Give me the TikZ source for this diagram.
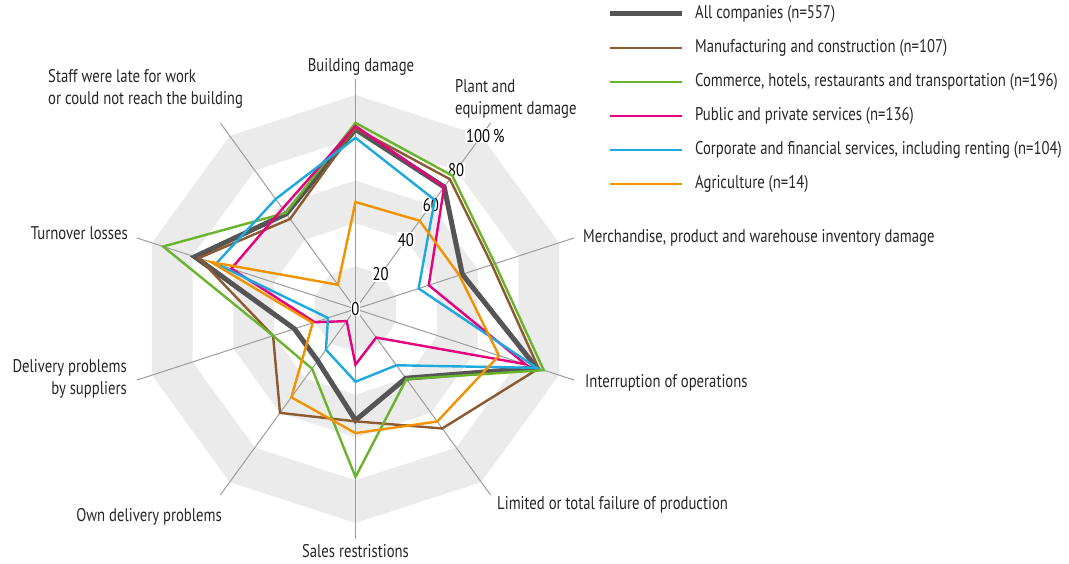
\documentclass[tikz,border=0pt]{standalone}
\usepackage{fontspec}
\setmainfont{PT Sans}[FakeStretch=0.8]
\usetikzlibrary{positioning}

\definecolor{allgray}{HTML}{555555}
\definecolor{manbrown}{HTML}{8C5A30}
\definecolor{comgreen}{HTML}{6AB42D}
\definecolor{pubpink}{HTML}{E6007E}
\definecolor{corblue}{HTML}{1EA8E0}
\definecolor{agrorange}{HTML}{F39200}
\definecolor{bandgray}{HTML}{EBEBEB}
\definecolor{axisgray}{HTML}{9D9D9D}

\begin{document}
\begin{tikzpicture}[x=1pt, y=1pt, font=\fontsize{18.4}{22}\selectfont]
\tikzset{axisline/.style={draw=axisgray, line width=1pt},
         serie/.style={line width=2.4pt},
         allline/.style={serie, draw=allgray, line width=5pt},
         manline/.style={serie, draw=manbrown},
         comline/.style={serie, draw=comgreen},
         publine/.style={serie, draw=pubpink},
         corline/.style={serie, draw=corblue},
         agrline/.style={serie, draw=agrorange},
         ticklabel/.style={fill=white, inner sep=0.8pt},
         axislabel/.style={inner sep=0pt, text=black!85},
         legtext/.style={inner sep=0pt, anchor=west, text=black!85}}
\useasboundingbox (-355.5,-255) rectangle (713.5,309);

% radar part, one unit = one percent
\begin{scope}[x=2.14pt, y=2.14pt]
% bands
\foreach \r/\c in {100/bandgray,80/white,60/bandgray,40/white,20/bandgray}
  \fill[\c] (90:\r) \foreach \a in {126,162,...,414} {-- (\a:\r)} -- cycle;
% axes
\foreach \a in {90,54,...,-234}
  \draw[axisline] (0,0) -- (\a:107.5);
% scale
\foreach \v in {0,20,40,60,80}
  \node[ticklabel] (t\v) at (54:\v) {\v};
\node[ticklabel, xshift=4pt] (t100) at (54:100) {100\,\%};

% series
\draw[allline] (90:84) -- (54:70.5) -- (18:52.5) -- (-18:89) -- (-54:40)
  -- (-90:52) -- (-126:30) -- (-162:30) -- (162:79) -- (126:55) -- cycle;
\draw[manline] (90:84.5) -- (54:75) -- (18:67) -- (-18:90) -- (-54:69)
  -- (-90:52.5) -- (-126:60) -- (-162:40.5) -- (162:77) -- (126:52) -- cycle;
\draw[comline] (90:87) -- (54:77) -- (18:68.5) -- (-18:92.5) -- (-54:40.5)
  -- (-90:78.5) -- (-126:34.5) -- (-162:40.5) -- (162:94.5) -- (126:55.5) -- cycle;
\draw[publine] (90:85.5) -- (54:70.5) -- (18:36) -- (-18:83.5) -- (-54:16.5)
  -- (-90:26) -- (-126:7) -- (-162:20) -- (162:61) -- (126:58) -- cycle;
\draw[corline] (90:80) -- (54:63) -- (18:31) -- (-18:89) -- (-54:32.5)
  -- (-90:34) -- (-126:23.5) -- (-162:13.5) -- (162:68.5) -- (126:63.5) -- cycle;
\draw[agrline] (90:50) -- (54:51) -- (18:51) -- (-18:70.5) -- (-54:65)
  -- (-90:58) -- (-126:51) -- (-162:21) -- (162:71) -- (126:14) -- cycle;
\end{scope}

% axis labels
\node[axislabel] (building) at (5.5,242) {Building damage};
\node[axislabel, anchor=west, align=left] (plant) at (99.5,210.5) {Plant and\\equipment damage};
\node[axislabel, anchor=west] (merch) at (227.5,71) {Merchandise, product and warehouse inventory damage};
\node[axislabel, anchor=west] (interr) at (229.5,-74) {Interruption of operations};
\node[axislabel, anchor=west] (limited) at (141.5,-196) {Limited or total failure of production};
\node[axislabel] (sales) at (0,-242) {Sales restristions};
\node[axislabel, anchor=east] (owndel) at (-133.5,-208) {Own delivery problems};
\node[axislabel, anchor=east, align=right] (suppl) at (-228.5,-69.5) {Delivery problems\\by suppliers};
\node[axislabel, anchor=east] (turnover) at (-227.5,76) {Turnover losses};
\node[axislabel, anchor=west, align=left] (staff) at (-307.5,220) {Staff were late for work\\or could not reach the building};

% legend
\coordinate (leg1) at (254.5,295);
\coordinate (leg2) at (254.5,261);
\coordinate (leg3) at (254.5,227);
\coordinate (leg4) at (254.5,193);
\coordinate (leg5) at (254.5,159);
\coordinate (leg6) at (254.5,125);
\draw[allline] (leg1) -- ++(72,0) coordinate (leg1e);
\draw[manline] (leg2) -- ++(72,0) coordinate (leg2e);
\draw[comline] (leg3) -- ++(72,0) coordinate (leg3e);
\draw[publine] (leg4) -- ++(72,0) coordinate (leg4e);
\draw[corline] (leg5) -- ++(72,0) coordinate (leg5e);
\draw[agrline] (leg6) -- ++(72,0) coordinate (leg6e);
\node[legtext, right=13pt of leg1e] (txt1) {All companies (n=557)};
\node[legtext, right=13pt of leg2e] (txt2) {Manufacturing and construction (n=107)};
\node[legtext, right=13pt of leg3e] (txt3) {Commerce, hotels, restaurants and transportation (n=196)};
\node[legtext, right=13pt of leg4e] (txt4) {Public and private services (n=136)};
\node[legtext, right=13pt of leg5e] (txt5) {Corporate and financial services, including renting (n=104)};
\node[legtext, right=13pt of leg6e] (txt6) {Agriculture (n=14)};
\end{tikzpicture}
\end{document}
